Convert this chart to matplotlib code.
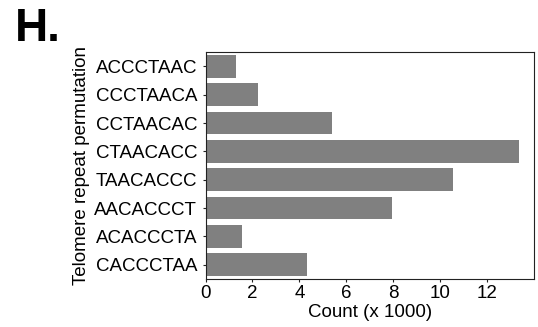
import matplotlib
matplotlib.use("Agg")
import matplotlib.pyplot as plt
import numpy as np

matplotlib.rcParams['font.family'] = ['Liberation Sans', 'DejaVu Sans']

# data
permutations = ['ACCCTAAC', 'CCCTAACA', 'CCTAACAC', 'CTAACACC',
                'TAACACCC', 'AACACCCT', 'ACACCCTA', 'CACCCTAA']
counts = [1.29, 2.23, 5.38, 13.35, 10.54, 7.94, 1.55, 4.32]
xticks = [0, 2, 4, 6, 8, 10, 12]

fig = plt.figure(figsize=(5.38, 3.27), dpi=100)
ax = fig.add_axes([0.382, 0.147, 0.611, 0.693])

pos = np.arange(len(permutations))
ax.barh(pos, counts, height=0.8, color='#808080')

ax.set_yticks(pos)
ax.set_yticklabels(permutations)
ax.set_ylim(len(permutations) - 0.5, -0.5)
ax.set_xlim(0, 14)
ax.set_xticks(xticks)

ax.tick_params(axis='both', labelsize=13.5, length=2.5, width=0.8, pad=3.5, color='#222222')
ax.tick_params(axis='x', pad=2)
for s in ax.spines.values():
    s.set_linewidth(0.8)
    s.set_color('#222222')

ax.set_xlabel('Count (x 1000)', fontsize=13.5, labelpad=1)
ax.set_ylabel('Telomere repeat permutation', fontsize=13.5, labelpad=3)

fig.text(0.028, 0.98, 'H.', fontsize=33, fontweight='bold', va='top', ha='left')

fig.savefig('out.png', dpi=100)
